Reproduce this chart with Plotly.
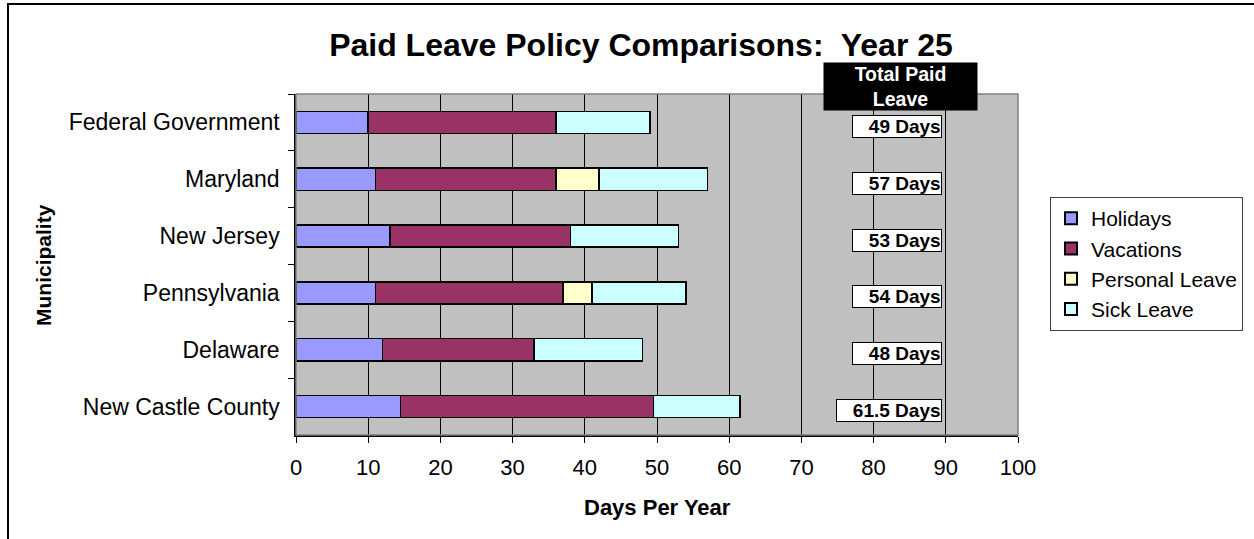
import plotly.graph_objects as go

categories = ["Federal Government", "Maryland", "New Jersey", "Pennsylvania", "Delaware", "New Castle County"]
holidays = [10, 11, 13, 11, 12, 14.5]
vacations = [26, 25, 25, 26, 21, 35]
personal = [0, 6, 0, 4, 0, 0]
sick = [13, 15, 15, 13, 15, 12]
totals = [49, 57, 53, 54, 48, 61.5]
x_ticks = [0, 10, 20, 30, 40, 50, 60, 70, 80, 90, 100]

series = [
    ("Holidays", holidays, "#9999FF"),
    ("Vacations", vacations, "#993366"),
    ("Personal Leave", personal, "#FFFFCC"),
    ("Sick Leave", sick, "#CCFFFF"),
]

FONT = "Liberation Sans, Arial, sans-serif"
W, H = 1254, 539
L, R, T, B = 296, 236, 94, 104
PW, PH = W - L - R, H - T - B

def px_x(px):
    return (px - L) / PW

def px_y(py):
    return (H - B - py) / PH

fig = go.Figure()
for name, vals, color in series:
    fig.add_trace(go.Bar(
        y=categories, x=vals, name=name, orientation="h",
        marker=dict(color=color, line=dict(color="black", width=1.6)),
        width=0.39,
    ))

annotations = []
for cat, tot in zip(categories, totals):
    label = f"{tot:g} Days"
    annotations.append(dict(
        x=89.5, y=cat, xref="x", yref="y", xanchor="right", yanchor="middle",
        text="\u00a0\u00a0\u00a0<b>" + label + "</b>", showarrow=False,
        font=dict(family=FONT, size=19, color="black"),
        bgcolor="white", bordercolor="black", borderwidth=1, borderpad=0,
        height=21, valign="bottom",
        yshift=-4,
    ))

annotations.append(dict(
    x=px_x(900.5), y=px_y(86.5), xref="paper", yref="paper",
    xanchor="center", yanchor="middle",
    text="<b>Total Paid<br>Leave</b>", showarrow=False,
    font=dict(family=FONT, size=19.5, color="white"),
    bgcolor="black", width=153, height=47, borderpad=0,
))

annotations.append(dict(
    x=px_x(43), y=px_y(265), xref="paper", yref="paper",
    xanchor="center", yanchor="middle", textangle=-90,
    text="<b>Municipality</b>", showarrow=False,
    font=dict(family=FONT, size=21, color="black"),
))

annotations.append(dict(
    x=px_x(657), y=px_y(507), xref="paper", yref="paper",
    xanchor="center", yanchor="middle",
    text="<b>Days Per Year</b>", showarrow=False,
    font=dict(family=FONT, size=22, color="black"),
))

fig.update_layout(
    width=W, height=H,
    margin=dict(l=L, r=R, t=T, b=B, pad=0, autoexpand=False),
    paper_bgcolor="white", plot_bgcolor="#C0C0C0",
    barmode="stack", bargap=0.61,
    font=dict(family=FONT, size=23, color="black"),
    title=dict(
        text="<b>Paid Leave Policy Comparisons:\u00a0 Year 25</b>",
        x=641 / W, xref="container", xanchor="center",
        y=1 - 45 / H, yref="container", yanchor="middle",
        font=dict(family=FONT, size=32, color="black"),
    ),
    legend=dict(
        x=px_x(1050), y=px_y(197), xanchor="left", yanchor="top",
        bgcolor="white", bordercolor="#404040", borderwidth=1,
        font=dict(family=FONT, size=21, color="black"),
        traceorder="normal", itemsizing="constant", itemwidth=30,
    ),
    xaxis=dict(
        range=[0, 100], tickvals=x_ticks, ticktext=[str(v) for v in x_ticks],
        showgrid=True, gridcolor="black", gridwidth=1,
        showline=True, linecolor="black", linewidth=1.5,
        ticks="outside", ticklen=6, tickcolor="black",
        ticklabelstandoff=6,
        tickfont=dict(size=22),
        zeroline=False, fixedrange=True,
    ),
    yaxis=dict(
        type="category", categoryorder="array", categoryarray=categories,
        autorange="reversed",
        showgrid=False, showline=True, linecolor="black", linewidth=1.5,
        ticks="outside", ticklen=6, tickcolor="black", tickson="boundaries",
        ticklabelstandoff=10,
        tickfont=dict(size=23),
        zeroline=False, fixedrange=True,
    ),
    annotations=annotations,
    shapes=[
        dict(type="rect", xref="paper", yref="paper",
             x0=0, x1=1, y0=0, y1=1,
             line=dict(color="#808080", width=1.5), layer="above"),
        dict(type="rect", xref="paper", yref="paper",
             x0=px_x(8), x1=px_x(1262), y0=px_y(546), y1=px_y(4),
             line=dict(color="black", width=2), layer="above"),
    ],
)

fig.write_html("out.html")
